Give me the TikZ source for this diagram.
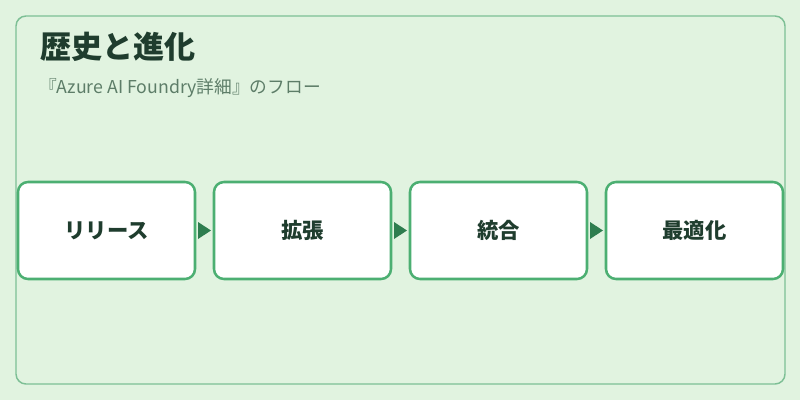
\documentclass[tikz,border=0pt]{standalone}
\usepackage{fontspec}
\setmainfont{Noto Sans CJK JP}
\usepackage{tikz}
\usetikzlibrary{calc,positioning}
\definecolor{bgc}{HTML}{E1F3E0}
\definecolor{framec}{HTML}{7DBF95}
\definecolor{boxc}{HTML}{4CAF72}
\definecolor{tipc}{HTML}{2E7D4F}
\definecolor{titlec}{HTML}{1F3D2E}
\definecolor{subc}{HTML}{5D7D68}
\tikzset{
    stagebox/.style={draw=boxc, line width=1.9pt, fill=white, rounded corners=7.5pt,
        minimum width=132.75pt, minimum height=72.75pt, outer sep=0pt,
        font=\fontsize{16pt}{18pt}\selectfont\bfseries, text=titlec},
    fliptip/.style={fill=tipc}
}

\begin{document}
\begin{tikzpicture}[x=0.75pt,y=-0.75pt]
        \useasboundingbox[fill=bgc] (0,0) rectangle (800,400);
        \draw[framec, line width=1.1pt, rounded corners=7.5pt] (16,16) rectangle (785,384);
        \node[anchor=west, inner sep=0pt, text=titlec,
            font=\fontsize{23.3pt}{27pt}\selectfont\bfseries] (title) at (40,47) {歴史と進化};
        \node[anchor=west, inner sep=0pt, text=subc,
            font=\fontsize{13.3pt}{15pt}\selectfont] (subtitle) at (39,88) {『Azure AI Foundry詳細』のフロー};
        % stages
        \node[stagebox] (s1) at (106.5,230.5) {リリース};
        \node[stagebox, right=14.25pt of s1] (s2) {拡張};
        \node[stagebox, right=14.25pt of s2] (s3) {統合};
        \node[stagebox, right=14.25pt of s3] (s4) {最適化};
        \foreach \a/\b in {s1/s2,s2/s3,s3/s4}
        \fill[fliptip] ($(\a.east)+(3,-8.5)$) -- ($(\a.east)+(16,0)$) -- ($(\a.east)+(3,8.5)$) -- cycle;
    \end{tikzpicture}
\end{document}
